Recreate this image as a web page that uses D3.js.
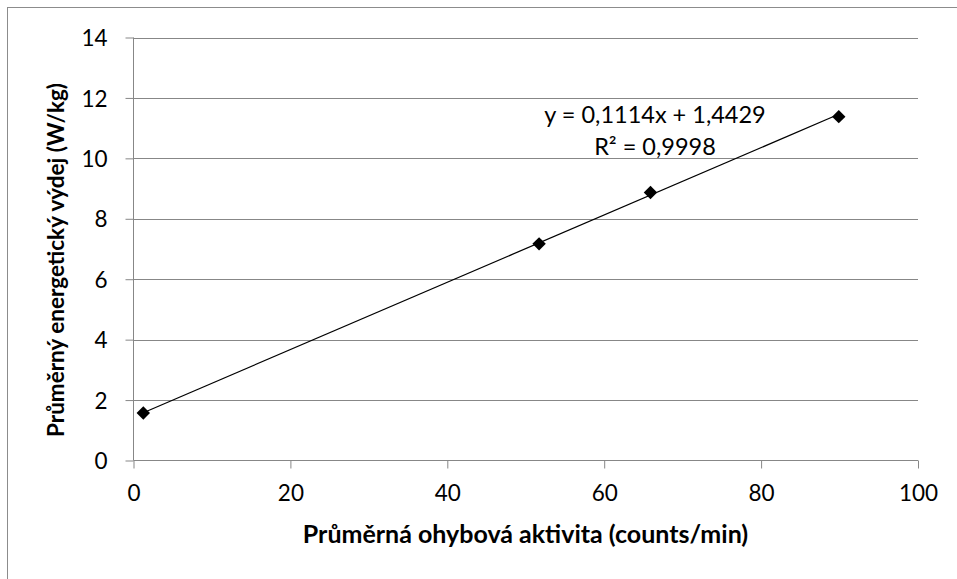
<!DOCTYPE html>
<html>
<head>
<meta charset="utf-8">
<script src="https://cdn.jsdelivr.net/npm/d3@7"></script>
<style>
  html, body { margin: 0; padding: 0; background: #fff; }
  svg { display: block; }
  text { font-family: Lato, "Open Sans", sans-serif; fill: #000; }
</style>
</head>
<body>
<svg id="chart" width="957" height="579"></svg>
<script>
// Average bending activity vs. average energy expenditure
const activity = [1.25, 51.7, 65.9, 89.9];
const expenditure = [1.57, 7.17, 8.87, 11.38];
const xTicks = [0, 20, 40, 60, 80, 100];
const yTicks = [0, 2, 4, 6, 8, 10, 12, 14];
const slope = 0.1114;
const intercept = 1.4429;
const equationLines = ["y = 0,1114x + 1,4429", "R² = 0,9998"];
const xTitle = "Průměrná ohybová aktivita (counts/min)";
const yTitle = "Průměrný energetický výdej (W/kg)";

const svg = d3.select("#chart");
const grid = "#878787";

// chart frame
svg.append("rect")
  .attr("x", 7.5).attr("y", 7.5)
  .attr("width", 960).attr("height", 600)
  .attr("fill", "none").attr("stroke", "#8c8c8c").attr("stroke-width", 1);

const plotLeft = 133.5, plotRight = 918, plotTop = 37.5, plotBottom = 460.5;
const x = d3.scaleLinear().domain([0, 100]).range([plotLeft, plotRight]);
const y = d3.scaleLinear().domain([0, 14]).range([plotBottom, plotTop]);
const fmt = d => String(d);

// horizontal gridlines
svg.append("g").selectAll("line").data(yTicks.filter(d => d > 0)).join("line")
  .attr("x1", plotLeft).attr("x2", plotRight)
  .attr("y1", d => Math.round(y(d)) + 0.5).attr("y2", d => Math.round(y(d)) + 0.5)
  .attr("stroke", grid).attr("stroke-width", 1);

// y axis
const yAxis = svg.append("g")
  .attr("transform", `translate(${plotLeft},0)`)
  .call(d3.axisLeft(y).tickValues(yTicks).tickFormat(fmt).tickSize(8).tickPadding(18));
yAxis.select(".domain").attr("stroke", grid).attr("d", `M0,${plotTop}V${plotBottom}`);
yAxis.selectAll(".tick line").attr("stroke", grid);
yAxis.selectAll(".tick text").style("font-size", "22.5px").attr("dy", "0.36em");

// x axis
const xAxis = svg.append("g")
  .attr("transform", `translate(0,${plotBottom})`)
  .call(d3.axisBottom(x).tickValues(xTicks).tickFormat(fmt).tickSize(8).tickPadding(17));
xAxis.select(".domain").attr("stroke", grid).attr("d", `M${plotLeft},0H${plotRight}`);
xAxis.selectAll(".tick line").attr("stroke", grid);
xAxis.selectAll(".tick text").style("font-size", "22.5px");

// linear trendline across the data range
const xs = d3.extent(activity);
svg.append("line")
  .attr("x1", x(xs[0])).attr("y1", y(slope * xs[0] + intercept))
  .attr("x2", x(xs[1])).attr("y2", y(slope * xs[1] + intercept))
  .attr("stroke", "#000").attr("stroke-width", 1.2);

// diamond markers
const diamond = d3.symbol().type(d3.symbolSquare).size(90);
svg.append("g").selectAll("path").data(activity).join("path")
  .attr("d", diamond)
  .attr("transform", (d, i) => `translate(${x(d)},${y(expenditure[i])}) rotate(45)`)
  .attr("fill", "#000");

// trendline equation
svg.append("g").selectAll("text").data(equationLines).join("text")
  .attr("x", 655).attr("y", (d, i) => 123 + i * 32)
  .attr("text-anchor", "middle")
  .style("font-size", "23.5px")
  .text(d => d);

// axis titles
svg.append("text")
  .attr("x", 525.5).attr("y", 543)
  .attr("text-anchor", "middle")
  .style("font-size", "25px").style("font-weight", "bold")
  .text(xTitle);

svg.append("text")
  .attr("transform", `translate(64,260) rotate(-90)`)
  .attr("text-anchor", "middle")
  .style("font-size", "22.5px").style("font-weight", "bold")
  .text(yTitle);
</script>
</body>
</html>
